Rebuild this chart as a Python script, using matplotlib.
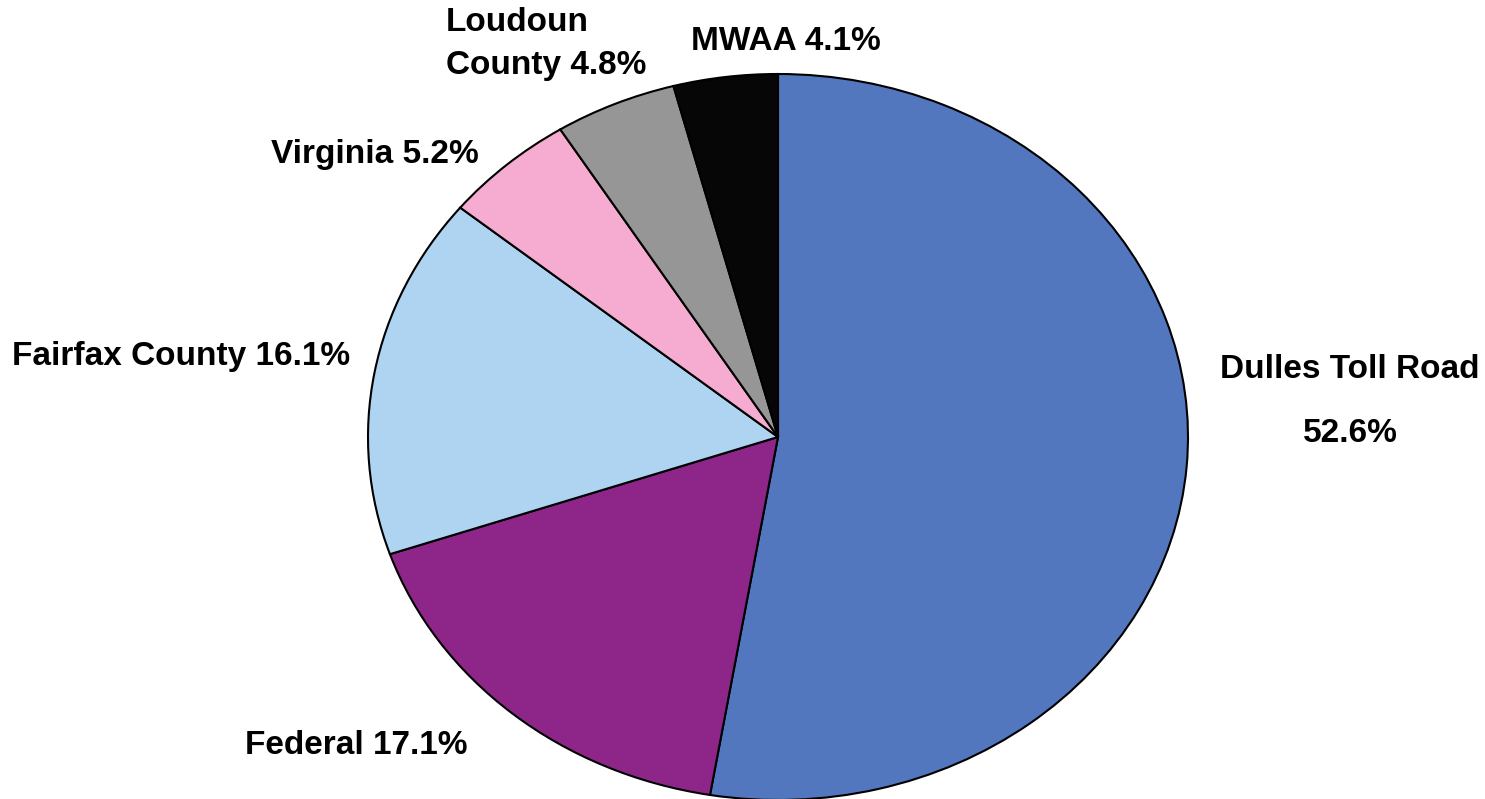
import matplotlib
matplotlib.use("Agg")
import matplotlib.pyplot as plt

categories = ["Dulles Toll Road", "Federal", "Fairfax County", "Virginia", "Loudoun County", "MWAA"]
values = [52.6, 17.1, 16.1, 5.2, 4.8, 4.1]
colors = ["#5277BE", "#8E268A", "#AED4F1", "#F5ACD0", "#969696", "#060606"]

plt.rcParams['font.family'] = ['Liberation Sans', 'DejaVu Sans']

W, H = 1485, 799
fig = plt.figure(figsize=(W / 100, H / 100), dpi=100)
ax = fig.add_axes([0, 0, 1, 1])

cx, cy, rx, ry = 778, 362, 410, 363  # pixel geometry (y from bottom)

ax.pie(values, colors=colors, startangle=90, counterclock=False,
       wedgeprops=dict(edgecolor="black", linewidth=1.5))
ax.set_aspect('auto')
ax.set_xlim(-cx / rx, (W - cx) / rx)
ax.set_ylim(-cy / ry, (H - cy) / ry)
ax.axis('off')

def P(px, py_top):
    return ((px - cx) / rx, ((H - py_top) - cy) / ry)

fs = 24
kw = dict(fontsize=fs, fontweight='bold', color='black')
ax.text(*P(446, 44), "Loudoun\nCounty 4.8%", ha='left', va='center', linespacing=1.5, **kw)
ax.text(*P(786, 42), "MWAA 4.1%", ha='center', va='center', **kw)
ax.text(*P(375, 155), "Virginia 5.2%", ha='center', va='center', **kw)
ax.text(*P(181, 357), "Fairfax County 16.1%", ha='center', va='center', **kw)
ax.text(*P(1350, 369), "Dulles Toll Road", ha='center', va='center', **kw)
ax.text(*P(1350, 434), "52.6%", ha='center', va='center', **kw)
ax.text(*P(356, 745), "Federal 17.1%", ha='center', va='center', **kw)

fig.savefig("out.png", dpi=100)
